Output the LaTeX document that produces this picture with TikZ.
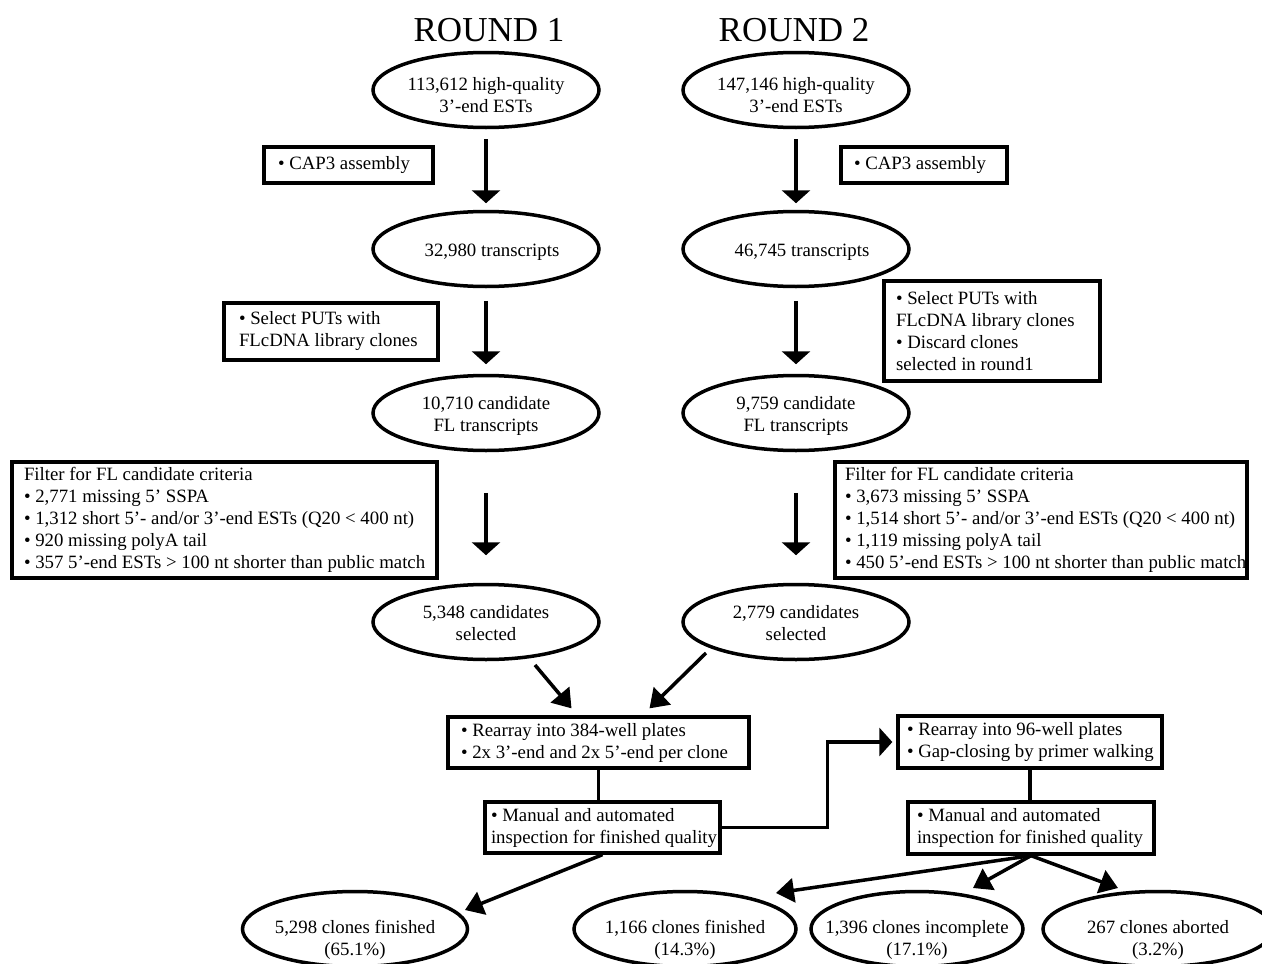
\documentclass[tikz,border=0pt]{standalone}
\usepackage{fontspec}
\setmainfont{Liberation Serif}
\usetikzlibrary{shapes.geometric,arrows.meta,calc}
\newcommand\myfs{\fontsize{18.8}{22}\selectfont}
\newcommand\mytitle{\fontsize{35}{40}\selectfont}
\begin{document}
\begin{tikzpicture}[x=1pt,y=-1pt,
  ell/.style={ellipse, draw, line width=3.5pt, inner sep=0pt, minimum width=226pt, minimum height=75pt},
  txt/.style={align=center, font=\myfs, inner sep=0pt},
  bx/.style={draw, line width=3.3pt, align=left, inner ysep=0pt, font=\myfs,
    execute at begin node={\spaceskip=0.25em\relax}},
  arr/.style={line width=3.5pt, -{Triangle[width=28pt,length=13pt]}},
  darr/.style={line width=3.5pt, -{Triangle[width=24pt,length=18pt]}},
  ln/.style={line width=3.5pt}]
\path[use as bounding box, fill=white] (0,0) rectangle (1262,964);

% titles
\node[font=\mytitle, anchor=base] (t1) at (489,41) {ROUND 1};
\node[font=\mytitle, anchor=base] (t2) at (794,41) {ROUND 2};

% ellipses
\node[ell] (a1) at (486,90) {};
\node[ell] (a2) at (796,90) {};
\node[ell] (b1) at (486,249) {};
\node[ell] (b2) at (796,249) {};
\node[ell] (c1) at (486,413) {};
\node[ell] (c2) at (796,413) {};
\node[ell] (d1) at (486,622) {};
\node[ell] (d2) at (796,622) {};
\node[ell, minimum width=225pt] (f1) at (355,929) {};
\node[ell, minimum width=222pt] (f2) at (685,929) {};
\node[ell, minimum width=212pt] (f3) at (917,929) {};
\node[ell, minimum width=230pt] (f4) at (1158,929) {};

% ellipse texts
\node[txt] (a1t) at ($(a1)+(0,5)$) {113,612 high-quality\\3’-end ESTs};
\node[txt] (a2t) at ($(a2)+(0,5)$) {147,146 high-quality\\3’-end ESTs};
\node[txt] (b1t) at ($(b1)+(6,3)$) {32,980 transcripts};
\node[txt] (b2t) at ($(b2)+(6,3)$) {46,745 transcripts};
\node[txt] (c1t) at ($(c1)+(0,3)$) {10,710 candidate\\FL transcripts};
\node[txt] (c2t) at ($(c2)+(0,3)$) {9,759 candidate\\FL transcripts};
\node[txt] (d1t) at ($(d1)+(0,1)$) {5,348 candidates\\selected};
\node[txt] (d2t) at ($(d2)+(0,1)$) {2,779 candidates\\selected};
\node[txt] (f1t) at ($(f1)+(0,11)$) {5,298 clones finished\\(65.1\%)};
\node[txt] (f2t) at ($(f2)+(0,11)$) {1,166 clones finished\\(14.3\%)};
\node[txt] (f3t) at ($(f3)+(0,11)$) {1,396 clones incomplete\\(17.1\%)};
\node[txt] (f4t) at ($(f4)+(0,11)$) {267 clones aborted\\(3.2\%)};

% boxes
\node[bx, text width=141pt, inner xsep=14pt, minimum height=36pt] (cap1) at (348.5,165) {\mbox{• CAP3 assembly}};
\node[bx, text width=140pt, inner xsep=13pt, minimum height=36pt] (cap2) at (924,165) {\mbox{• CAP3 assembly}};
\node[bx, text width=184pt, inner xsep=15pt, minimum height=57pt] (sel1) at (331,331.5) {\mbox{• Select PUTs with}\\\mbox{FLcDNA library clones}};
\node[bx, text width=192pt, inner xsep=12pt, minimum height=100pt] (sel2) at (992,331) {\mbox{• Select PUTs with}\\\mbox{FLcDNA library clones}\\\mbox{• Discard clones}\\\mbox{selected in round1}};
\node[bx, text width=401pt, inner xsep=12pt, minimum height=116pt] (fil1) at (224.5,520) {\mbox{Filter for FL candidate criteria}\\\mbox{• 2,771 missing 5’ SSPA}\\\mbox{• 1,312 short 5’- and/or 3’-end ESTs (Q20 < 400 nt)}\\\mbox{• 920 missing polyA tail}\\\mbox{• 357 5’-end ESTs > 100 nt shorter than public match}};
\node[bx, text width=392pt, inner xsep=10pt, minimum height=116pt] (fil2) at (1041,520) {\mbox{Filter for FL candidate criteria}\\\mbox{• 3,673 missing 5’ SSPA}\\\mbox{• 1,514 short 5’- and/or 3’-end ESTs (Q20 < 400 nt)}\\\mbox{• 1,119 missing polyA tail}\\\mbox{• 450 5’-end ESTs > 100 nt shorter than public match}};
\node[bx, text width=275pt, inner xsep=13pt, minimum height=51pt] (rea1) at (598.5,742.5) {\mbox{• Rearray into 384-well plates}\\\mbox{• 2x 3’-end and 2x 5’-end per clone}};
\node[bx, text width=223pt, inner xsep=6pt, minimum height=51pt] (man1) at (602.5,827.5) {\mbox{• Manual and automated}\\\mbox{inspection for finished quality}};
\node[bx, text width=246pt, inner xsep=9pt, minimum height=52pt] (rea2) at (1030,742) {\mbox{• Rearray into 96-well plates}\\\mbox{• Gap-closing by primer walking}};
\node[bx, text width=228pt, inner xsep=9pt, minimum height=52pt] (man2) at (1031,828) {\mbox{• Manual and automated}\\\mbox{inspection for finished quality}};

% vertical arrows
\draw[arr, shorten <=10pt, shorten >=6.5pt] (a1) -- (b1);
\draw[arr, shorten <=12.5pt, shorten >=9.5pt] (b1) -- (c1);
\draw[arr, shorten <=40.5pt, shorten >=27.5pt] (c1) -- (d1);
\draw[arr, shorten <=10pt, shorten >=6.5pt] (a2) -- (b2);
\draw[arr, shorten <=12.5pt, shorten >=9.5pt] (b2) -- (c2);
\draw[arr, shorten <=40.5pt, shorten >=27.5pt] (c2) -- (d2);

% merge arrows
\draw[darr] ($(d1)+(49,43)$) -- ($(rea1.north)+(-27,-7)$);
\draw[darr] ($(d2)+(-90,31)$) -- ($(rea1.north)+(51,-7)$);

% connectors
\draw[ln] (rea1.south) -- (rea1.south |- man1.north);
\draw[arr, shorten >=4pt] (man1.east) -- ++(106,0) |- (rea2.west);
\draw[ln] (rea2.south) -- (rea2.south |- man2.north);

% outcome arrows
\draw[darr] (man1.south) -- ($(f1)+(110,-19)$);
\draw[darr] (man2.south) -- ($(f2)+(91,-36)$);
\draw[darr] (man2.south) -- ($(f3)+(56,-41)$);
\draw[darr] (man2.south) -- ($(f4)+(-40,-41)$);
\end{tikzpicture}
\end{document}
